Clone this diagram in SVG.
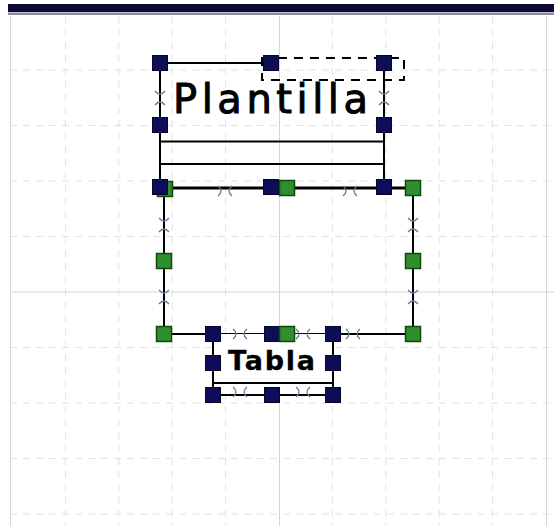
<svg xmlns="http://www.w3.org/2000/svg" width="554" height="526" viewBox="0 0 554 526">
<style>
.minor{stroke:#e2e2e2;stroke-width:1;stroke-dasharray:7 6;fill:none}
.major{stroke:#d4d4dc;stroke-width:1;fill:none}
.ln{stroke:#000;stroke-width:2;fill:none}
.nh{fill:#0e0e58;stroke:#05052a;stroke-width:1}
.gh{fill:#2f8f2f;stroke:#0f4a0f;stroke-width:1.5}
.mk{stroke:#6a7a9c;stroke-width:1.3;fill:none}
.lbl{font-family:"DejaVu Sans",sans-serif;fill:#000;stroke:#000}
</style>
<defs>
<rect id="n" class="nh" x="-7.5" y="-7.5" width="15" height="15"/>
<rect id="g" class="gh" x="-7.5" y="-7.5" width="15" height="15"/>
<path id="mh" class="mk" d="M-7,-5 Q-1,0 -7,5 M7,-5 Q1,0 7,5"/>
<path id="mv" class="mk" d="M-5,-7 Q0,-1 5,-7 M-5,7 Q0,1 5,7"/>
</defs>
<rect width="554" height="526" fill="#fff"/>
<g id="grid">
<path class="minor" d="M65.4 16V526M118.8 16V526M172.2 16V526M225.6 16V526M332.4 16V526M385.8 16V526M439.2 16V526M492.6 16V526"/>
<path class="minor" d="M10 70H554M10 125.5H554M10 181H554M10 236.5H554M10 347.5H554M10 403H554M10 458.5H554M10 514H554"/>
<path class="major" d="M10.5 16V526M279.5 16V526M546.5 16V526M10 292H554"/>
</g>
<rect x="8" y="4" width="546" height="8" fill="#0b0b36"/>
<rect x="8" y="12.5" width="546" height="2.5" fill="#8c8ca4"/>
<g id="contenedor">
<path class="ln" d="M164 188V334H413V188"/>
<path stroke="#000" stroke-width="3" fill="none" d="M160 188H413"/>
<use href="#g" x="165" y="189"/>
<use href="#g" x="413" y="188"/>
<use href="#g" x="164" y="261"/>
<use href="#g" x="413" y="261"/>
<use href="#g" x="164" y="334"/>
<use href="#g" x="413" y="334"/>
</g>
<g id="plantilla">
<path class="ln" d="M160 63H271M160 63V187M384 63V187M160 141.5H384M160 164H384"/>
<rect x="262" y="58" width="142" height="22" fill="none" stroke="#000" stroke-width="2" stroke-dasharray="9 7"/>
<text class="lbl" x="173" y="113" font-size="40" stroke-width="1" textLength="195" lengthAdjust="spacing">Plantilla</text>
<use href="#n" x="160" y="63"/>
<use href="#n" x="271" y="63"/>
<use href="#n" x="384" y="63"/>
<use href="#n" x="160" y="125"/>
<use href="#n" x="384" y="125"/>
<use href="#n" x="160" y="187"/>
<use href="#n" x="271" y="187"/>
<use href="#n" x="384" y="187"/>
<use href="#g" x="287" y="188"/>
</g>
<g id="tabla">
<rect x="213" y="334" width="120" height="61" fill="#fff" stroke="none"/>
<path class="ln" d="M213 334V395M333 334V395M213 383H333M213 395H333"/>
<text class="lbl" x="228" y="370" font-size="27" font-weight="bold" stroke-width="0.3" textLength="87" lengthAdjust="spacing">Tabla</text>
<use href="#n" x="213" y="334"/>
<use href="#n" x="272" y="334"/>
<use href="#n" x="333" y="334"/>
<use href="#n" x="213" y="363"/>
<use href="#n" x="333" y="363"/>
<use href="#n" x="213" y="395"/>
<use href="#n" x="272" y="395"/>
<use href="#n" x="333" y="395"/>
<use href="#g" x="287" y="334"/>
</g>
<g id="connectors">
<use href="#mv" x="160" y="98"/>
<use href="#mv" x="384" y="98"/>
<use href="#mh" x="225" y="191"/>
<use href="#mh" x="350" y="191"/>
<use href="#mv" x="164" y="225"/>
<use href="#mv" x="164" y="297"/>
<use href="#mv" x="413" y="225"/>
<use href="#mv" x="413" y="297"/>
<use href="#mh" x="240" y="334"/>
<use href="#mh" x="303" y="334"/>
<use href="#mh" x="353" y="334"/>
<use href="#mh" x="240" y="392"/>
<use href="#mh" x="303" y="392"/>
</g>
</svg>
